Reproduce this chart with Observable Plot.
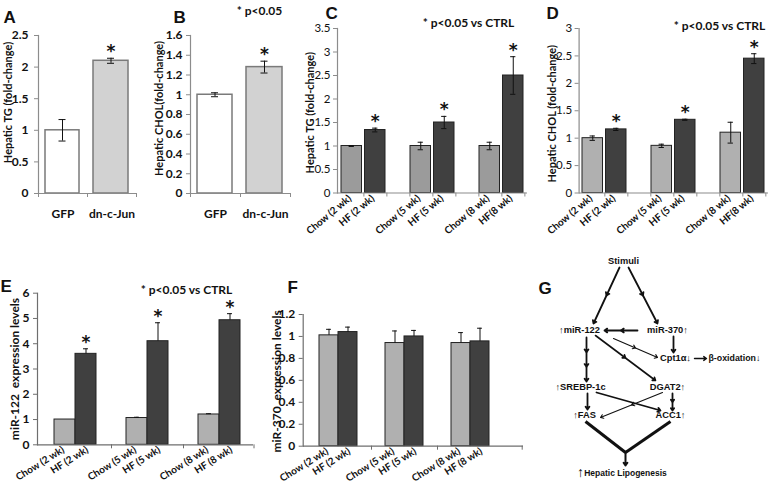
<!DOCTYPE html>
<html><head><meta charset="utf-8">
<script src="https://cdn.jsdelivr.net/npm/d3@7"></script>
<script src="https://cdn.jsdelivr.net/npm/@observablehq/plot@0.6"></script>
<style>
body{margin:0;background:#fff}
#fig{position:relative;width:769px;height:484px;overflow:hidden;background:#fff}
#fig svg{position:absolute;overflow:visible;background:transparent}
</style></head><body><div id="fig"></div>
<script>
// ---------- data ----------
const abCategories = ["GFP", "dn-c-Jun"];
const aValues = [1.0, 2.1];
const aErrors = [0.17, 0.04];
const aSig = [false, true];
const bValues = [1.0, 1.28];
const bErrors = [0.02, 0.06];
const bSig = [false, true];

const cdLabels = ["Chow (2 wk)", "HF (2 wk)", "Chow (5 wk)", "HF (5 wk)", "Chow (8 wk)", "HF(8 wk)"];
const efLabels = ["Chow (2 wk)", "HF (2 wk)", "Chow (5 wk)", "HF (5 wk)", "Chow (8 wk)", "HF (8 wk)"];
const diet = ["Chow", "HF", "Chow", "HF", "Chow", "HF"];
const cValues = [1.0, 1.34, 1.0, 1.5, 1.0, 2.5];
const cErrors = [0.01, 0.04, 0.08, 0.13, 0.08, 0.4];
const dValues = [1.0, 1.16, 0.86, 1.335, 1.1, 2.45];
const dErrors = [0.04, 0.02, 0.03, 0.01, 0.19, 0.09];
const eValues = [1.0, 3.6, 1.06, 4.1, 1.2, 4.93];
const eErrors = [0, 0.2, 0.03, 0.73, 0.03, 0.26];
const fValues = [1.01, 1.04, 0.94, 1.0, 0.94, 0.955];
const fErrors = [0.055, 0.045, 0.11, 0.055, 0.095, 0.12];
const hfSig = [false, true, false, true, false, true];
const noSig = [false, false, false, false, false, false];

const yTicksA = [0, 0.5, 1, 1.5, 2, 2.5];
const yTicksB = [0, 0.2, 0.4, 0.6, 0.8, 1, 1.2, 1.4, 1.6];
const yTicksC = [0, 0.5, 1, 1.5, 2, 2.5, 3, 3.5];
const yTicksD = [0, 0.5, 1, 1.5, 2, 2.5, 3];
const yTicksE = [0, 1, 2, 3, 4, 5, 6];
const yTicksF = [0, 0.2, 0.4, 0.6, 0.8, 1, 1.2];

// diagram (panel G)
const gNodes = [
  {label: "Stimuli", x: 94, y: 11},
  {label: "↑miR-122", x: 50, y: 80},
  {label: "miR-370↑", x: 138, y: 80},
  {label: "Cpt1α↓", x: 146, y: 108},
  {label: "↑SREBP-1c", x: 51, y: 137},
  {label: "DGAT2↑", x: 138, y: 137},
  {label: "↑FAS", x: 55, y: 165},
  {label: "ACC1↑", x: 141, y: 165}
];
const gBottom = [{label: "Hepatic Lipogenesis", x: 96, y: 223}];
const gSideNotes = [{label: "β-oxidation↓", x: 179, y: 108}];
const gBigArrows = [{label: "↑", x: 51, y: 222}];
// [x1, y1, x2, y2, number of heads, stroke width]
const gEdges = [
  [90, 17, 64, 73, 2, 1.8],
  [99, 17, 128, 73, 2, 1.8],
  [108, 80, 75, 80, 2, 1.8],
  [144, 86, 144, 102, 1, 1.8],
  [84, 88, 128, 107, 2, 1.1],
  [66, 85, 126, 130, 2, 1.6],
  [57, 87, 57, 131, 3, 1.8],
  [58, 143, 58, 159, 1, 1.8],
  [67, 142, 131, 160, 1, 1.8],
  [133, 142, 71, 167, 2, 1.1],
  [143, 143, 143, 160, 2, 1.8],
  [165, 108, 177, 108, 1, 1.4],
  [96, 202, 96, 215, 1, 2]
];
const gJoins = [[56, 171, 96, 202], [141, 171, 96, 202]];

// ---------- helpers ----------
const fig = document.getElementById("fig");
const FONT = "Lato, 'Open Sans', sans-serif";
const LETTER_FONT = "'Liberation Sans', Arial, sans-serif";
const AXIS = "#8c8c8c";
const fmt = d => String(+(+d).toFixed(2));
function place(svg, left, top) {
  svg.style.left = left + "px";
  svg.style.top = top + "px";
  fig.appendChild(svg);
}
function rowsOf(labels, values, errors, sig, plusOnly) {
  return labels.map((label, i) => ({
    label, value: values[i], err: errors[i], sig: sig[i], diet: diet[i] ?? "x",
    lo: plusOnly ? values[i] : values[i] - errors[i], hi: values[i] + errors[i]
  }));
}
function gapDomain(labels) {
  return [labels[0], labels[1], " ", labels[2], labels[3], "  ", labels[4], labels[5]];
}

function barPanel(cfg) {
  const rows = cfg.rows;
  const step = (cfg.xRange[1] - cfg.xRange[0]) / cfg.domain.length;
  const marks = [];
  for (const g of cfg.groups) {
    const sub = rows.filter(g.filter);
    const shift = ((g.insetLeft ?? 0) - (g.insetRight ?? 0)) / 2;
    marks.push(Plot.barY(sub, {x: "label", y: "value", fill: g.fill, stroke: g.stroke, strokeWidth: g.strokeWidth ?? 1,
      insetLeft: g.insetLeft ?? 0, insetRight: g.insetRight ?? 0}));
    const withErr = sub.filter(d => d.err > 0);
    const capIn = (step - cfg.cap) / 2;
    marks.push(Plot.ruleX(withErr, {x: "label", y1: "lo", y2: "hi", stroke: "#111", strokeWidth: 1, dx: shift}));
    marks.push(Plot.tickY(withErr, {x: "label", y: "hi", stroke: "#111", strokeWidth: 1,
      insetLeft: capIn + shift, insetRight: capIn - shift}));
    if (!cfg.plusOnly) marks.push(Plot.tickY(withErr, {x: "label", y: "lo", stroke: "#111", strokeWidth: 1,
      insetLeft: capIn + shift, insetRight: capIn - shift}));
    marks.push(Plot.text(sub.filter(d => d.sig), {x: "label", y: "hi", text: () => "*", dx: shift, dy: cfg.starDy ?? -1,
      lineAnchor: "bottom", fontSize: 17, fontWeight: "bold", fontFamily: "'DejaVu Sans', sans-serif", fill: "#111"}));
  }
  // axes
  marks.push(Plot.ruleY([0], {stroke: cfg.axisColor ?? AXIS, strokeWidth: 1.2}));
  marks.push(Plot.frame({anchor: "left", stroke: cfg.axisColor ?? AXIS, strokeWidth: 1.2}));
  marks.push(Plot.axisY({ticks: cfg.yTicks, tickFormat: fmt, tickSize: 4, tickPadding: cfg.tickPadY ?? 4,
    stroke: cfg.axisColor ?? AXIS, fill: "#111", fontSize: cfg.yTickSize ?? 12, fontWeight: cfg.yBold ? "bold" : "normal", label: null}));
  // x tick marks at category boundaries
  if (cfg.boundaryTicks) {
    marks.push(Plot.axisX({ticks: cfg.boundaryTicks, tickSize: 4, tickFormat: () => "", dx: cfg.boundaryDx ?? 0,
      stroke: cfg.axisColor ?? AXIS, label: null}));
  }
  if (cfg.extraTicks) {
    for (const t of cfg.extraTicks) marks.push(Plot.axisX({ticks: [t.tick], tickSize: 4, tickFormat: () => "", dx: t.dx,
      stroke: cfg.axisColor ?? AXIS, label: null}));
  }
  // x labels
  marks.push(Plot.axisX({ticks: cfg.domain.filter(d => d.trim()), tickSize: 0, tickPadding: cfg.labelPad ?? 6,
    tickRotate: cfg.rotate ?? 0, dx: cfg.labelDx ?? 0, fontSize: cfg.labelSize ?? 10, fontWeight: "bold", fill: "#111", label: null}));
  // y title
  marks.push(Plot.text([cfg.yTitle], {frameAnchor: "left", text: d => d, rotate: -90, dx: cfg.titleDx, dy: cfg.titleDy ?? 0,
    textAnchor: "middle", lineAnchor: "middle", fontSize: cfg.titleSize ?? 12, fontWeight: "bold", fill: "#111"}));
  // panel letter
  marks.push(Plot.text([cfg.letter], {frameAnchor: "top-left", text: d => d, dx: cfg.letterDx, dy: cfg.letterDy,
    textAnchor: "start", lineAnchor: "bottom", fontSize: 17, fontWeight: "bold", fontFamily: LETTER_FONT, fill: "#111"}));
  if (cfg.note) {
    marks.push(Plot.text([cfg.note], {frameAnchor: "top-left", text: d => d, dx: cfg.noteDx, dy: cfg.noteDy,
      textAnchor: "middle", lineAnchor: "middle", fontSize: 12, fontWeight: "bold", fill: "#111"}));
  }
  const svg = Plot.plot({
    width: cfg.width, height: cfg.height,
    marginLeft: cfg.marginLeft, marginRight: cfg.marginRight, marginTop: cfg.marginTop, marginBottom: cfg.marginBottom,
    style: {fontFamily: FONT, background: "transparent", overflow: "visible"},
    x: {type: "band", domain: cfg.domain, range: cfg.xRange, padding: 0, axis: null},
    y: {domain: cfg.yDomain, axis: null},
    marks
  });
  place(svg, cfg.left, cfg.top);
}

// ---------- panels A, B ----------
const whiteGray = [
  {filter: d => d.label === "GFP", fill: "#ffffff", stroke: "#7a7a7a", strokeWidth: 1.5, insetLeft: 7, insetRight: 8},
  {filter: d => d.label !== "GFP", fill: "#d2d2d2", stroke: "#7a7a7a", strokeWidth: 1.5, insetLeft: 6, insetRight: 8}
];
barPanel({
  left: 0, top: 0, width: 150, height: 240, marginLeft: 38, marginRight: 14, marginTop: 35, marginBottom: 47,
  rows: rowsOf(abCategories, aValues, aErrors, aSig, false), domain: abCategories, xRange: [38, 136],
  yDomain: [0, 2.5], yTicks: yTicksA, yBold: true, tickPadY: 6, cap: 7, groups: whiteGray,
  boundaryTicks: abCategories, boundaryDx: 24.5, extraTicks: [{tick: "GFP", dx: -24.5}],
  labelPad: 16, labelSize: 12, yTitle: "Hepatic TG (fold-change)", titleSize: 11, titleDx: -30, titleDy: -12,
  letter: "A", letterDx: -35, letterDy: -13
});
barPanel({
  left: 150, top: 0, width: 150, height: 240, marginLeft: 40, marginRight: 10, marginTop: 35, marginBottom: 47,
  rows: rowsOf(abCategories, bValues, bErrors, bSig, false), domain: abCategories, xRange: [40, 140],
  yDomain: [0, 1.6], yTicks: yTicksB, yBold: true, tickPadY: 4, cap: 7, groups: whiteGray,
  boundaryTicks: abCategories, boundaryDx: 25, extraTicks: [{tick: "GFP", dx: -25}],
  labelPad: 16, labelSize: 12, yTitle: "Hepatic CHOL(fold-change)", titleSize: 11, titleDx: -31, titleDy: -6,
  letter: "B", letterDx: -17, letterDy: -13, note: "* p<0.05", noteDx: 69, noteDy: -24
});

// ---------- panels C, D ----------
const cdGroups = (chowFill) => [
  {filter: d => d.diet === "Chow", fill: chowFill, stroke: "#222", insetLeft: 1, insetRight: 1.5},
  {filter: d => d.diet === "HF", fill: "#404040", stroke: "#222", insetLeft: 1.5, insetRight: 1}
];
const cDomain = gapDomain(cdLabels);
barPanel({
  left: 300, top: 0, width: 240, height: 240, marginLeft: 37, marginRight: 13, marginTop: 28, marginBottom: 47.5,
  rows: rowsOf(cdLabels, cValues, cErrors, hfSig, false), domain: cDomain, xRange: [37, 227],
  yDomain: [0, 3.5], yTicks: yTicksC, yBold: false, yTickSize: 11.5, tickPadY: 3, cap: 6, groups: cdGroups("#9b9b9b"),
  boundaryTicks: cDomain, boundaryDx: 190 / 16,
  rotate: -40, labelPad: 4, labelDx: -2, labelSize: 10,
  yTitle: "Hepatic TG (fold-change)", titleSize: 11, titleDx: -27, titleDy: 2,
  letter: "C", letterDx: -12, letterDy: -10, note: "* p<0.05 vs CTRL", noteDx: 131, noteDy: -5
});
barPanel({
  left: 540, top: 0, width: 229, height: 240, marginLeft: 38.6, marginRight: 1, marginTop: 28, marginBottom: 47.5,
  rows: rowsOf(cdLabels, dValues, dErrors, hfSig, false), domain: cDomain, xRange: [38.6, 228],
  yDomain: [0, 3], yTicks: yTicksD, yBold: false, yTickSize: 11.5, tickPadY: 3, cap: 6, groups: cdGroups("#b0b0b0"),
  boundaryTicks: cDomain, boundaryDx: 189.4 / 16,
  rotate: -40, labelPad: 4, labelDx: -2, labelSize: 10,
  yTitle: "Hepatic CHOL (fold-change)", titleSize: 11, titleDx: -27, titleDy: 3,
  letter: "D", letterDx: -32.6, letterDy: -10, note: "* p<0.05 vs CTRL", noteDx: 140.4, noteDy: -2
});

// ---------- panels E, F ----------
const efGroups = [
  {filter: d => d.diet === "Chow", fill: "#b0b0b0", stroke: "#222", insetLeft: 3, insetRight: 0},
  {filter: d => d.diet === "HF", fill: "#404040", stroke: "#222", insetLeft: 0, insetRight: 3}
];
const eDomain = gapDomain(efLabels);
barPanel({
  left: 0, top: 240, width: 260, height: 244, marginLeft: 37, marginRight: 7, marginTop: 52.7, marginBottom: 39.7,
  rows: rowsOf(efLabels, eValues, eErrors, hfSig, true), domain: eDomain, xRange: [50.5, 242.5],
  yDomain: [0, 6], yTicks: yTicksE, yBold: true, tickPadY: 4, cap: 5, groups: efGroups, plusOnly: true,
  axisColor: "#6e6e6e", boundaryTicks: [" ", "  "], boundaryDx: 0, extraTicks: [{tick: "HF (8 wk)", dx: 22.5}],
  rotate: -32, labelPad: 4, labelDx: 0, labelSize: 10,
  yTitle: "miR-122  expression levels", titleDx: -22, titleDy: 0,
  letter: "E", letterDx: -37, letterDy: -1, note: "* p<0.05 vs CTRL", noteDx: 149, noteDy: -3
});
barPanel({
  left: 260, top: 240, width: 269, height: 244, marginLeft: 42.7, marginRight: 6, marginTop: 74, marginBottom: 38.3,
  rows: rowsOf(efLabels, fValues, fErrors, noSig, true), domain: eDomain, xRange: [55.8, 233.2],
  yDomain: [0, 1.2], yTicks: yTicksF, yBold: true, tickPadY: 4, cap: 5, groups: efGroups, plusOnly: true,
  axisColor: "#6e6e6e", boundaryTicks: [" ", "  "], boundaryDx: 0, extraTicks: [{tick: "HF (8 wk)", dx: 40.7}],
  rotate: -32, labelPad: 4, labelDx: 0, labelSize: 10,
  yTitle: "miR-370  expression levels", titleDx: -25.7, titleDy: 1,
  letter: "F", letterDx: -15.7, letterDy: -22
});

// ---------- panel G (diagram) ----------
const segs = [];
for (const [x1, y1, x2, y2, n, w] of gEdges) {
  for (let k = 0; k < n; k++) {
    segs.push({x1: x1 + (x2 - x1) * k / n, y1: y1 + (y2 - y1) * k / n,
               x2: x1 + (x2 - x1) * (k + 1) / n, y2: y1 + (y2 - y1) * (k + 1) / n, w});
  }
}
const joins = gJoins.map(([x1, y1, x2, y2]) => ({x1, y1, x2, y2}));
const gSvg = Plot.plot({
  width: 240, height: 234, margin: 0,
  style: {fontFamily: LETTER_FONT, background: "transparent", overflow: "visible"},
  x: {domain: [0, 240], range: [0, 240], axis: null},
  y: {domain: [0, 234], range: [0, 234], axis: null},
  marks: [
    Plot.arrow(segs, {x1: "x1", y1: "y1", x2: "x2", y2: "y2", strokeWidth: "w", stroke: "#111", headLength: 5, headAngle: 70, bend: 0}),
    Plot.link(joins, {x1: "x1", y1: "y1", x2: "x2", y2: "y2", stroke: "#111", strokeWidth: 3}),
    Plot.text(gNodes, {x: "x", y: "y", text: "label", fontSize: 9.3, fontWeight: "bold", fill: "#111"}),
    Plot.text(gBottom, {x: "x", y: "y", text: "label", fontSize: 8.5, fontWeight: "bold", fill: "#111"}),
    Plot.text(gSideNotes, {x: "x", y: "y", text: "label", textAnchor: "start", fontSize: 8.8, fontWeight: "bold", fill: "#111"}),
    Plot.text(gBigArrows, {x: "x", y: "y", text: "label", fontSize: 14, fontWeight: "bold", fill: "#111"}),
    Plot.text(["G"], {frameAnchor: "top-left", text: d => d, dx: 9, dy: 43, textAnchor: "start", lineAnchor: "bottom",
      fontSize: 17, fontWeight: "bold", fill: "#111"})
  ]
});
place(gSvg, 529, 250);
</script></body></html>
